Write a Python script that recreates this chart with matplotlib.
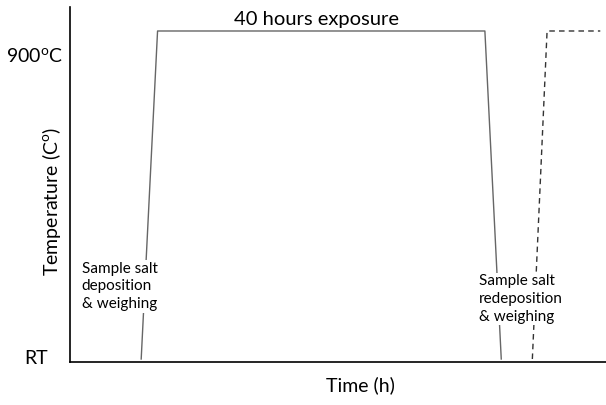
import matplotlib
matplotlib.use("Agg")
import matplotlib.pyplot as plt

plt.rcParams['font.family'] = ['Lato', 'DejaVu Sans']
plt.rcParams['mathtext.fontset'] = 'custom'
plt.rcParams['mathtext.rm'] = 'Lato'

# time (h) and temperature (C) of the exposure cycle
cycle_time = [8.7, 10.7, 50.7, 52.7]
cycle_temp = [25, 900, 900, 25]

# next cycle (dashed)
next_time = [56.5, 58.3, 64.8]
next_temp = [25, 900, 900]

W, H = 606, 405
fig = plt.figure(figsize=(W / 100, H / 100), dpi=100)
ax = fig.add_axes([70 / W, 43 / H, 536 / W, 355 / H])

ax.plot(cycle_time, cycle_temp, color='#666666', lw=1.0, zorder=1)
ax.plot(next_time, next_temp, color='#333333', lw=1.0, ls=(0, (4, 3)), zorder=1)

ax.set_xlim(0, 65.5)
ax.set_ylim(17, 964)

for s in ['top', 'right']:
    ax.spines[s].set_visible(False)
ax.spines['left'].set_linewidth(1.2)
ax.spines['bottom'].set_linewidth(1.2)
ax.set_xticks([])
ax.set_yticks([])


def ftext(x, y, s, **kw):
    # place text by pixel position in the figure
    fig.text(x / W, 1 - y / H, s, **kw)


ftext(63, 57, '900$^{\\rm o}$C', fontsize=14, ha='right', va='center')
ftext(48, 358, 'RT', fontsize=14, ha='right', va='center')
ftext(52, 201, 'Temperature (C$^{\\rm o}$)', fontsize=14, ha='center', va='center',
      rotation=90)
ftext(360, 385, 'Time (h)', fontsize=14, ha='center', va='center')

ax.text(30.1, 930, '40 hours exposure', fontsize=14.5, ha='center', va='center')

box = dict(facecolor='white', edgecolor='none', pad=1)
ax.text(1.45, 285, 'Sample salt\ndeposition\n& weighing', fontsize=11,
        ha='left', va='top', linespacing=1.35, bbox=box, zorder=3)
ax.text(50.0, 252, 'Sample salt\nredeposition\n& weighing', fontsize=11,
        ha='left', va='top', linespacing=1.35, bbox=box, zorder=3)

fig.savefig('out.png', dpi=100)
